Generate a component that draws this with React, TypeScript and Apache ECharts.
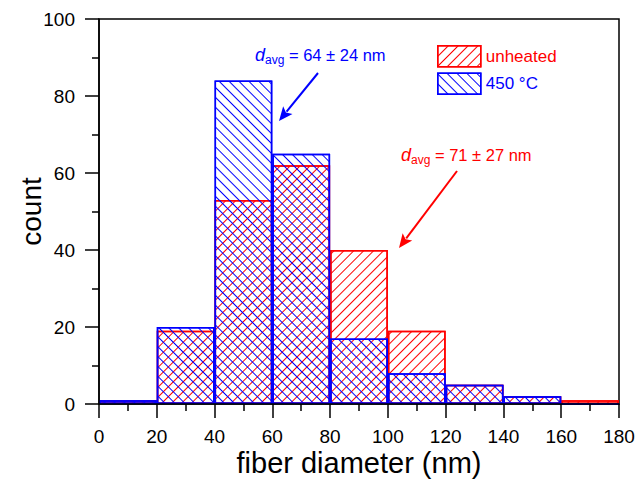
import React, { useEffect, useRef } from "react";
import * as echarts from "echarts";

const binStarts = [0, 20, 40, 60, 80, 100, 120, 140, 160];
const binLabels = binStarts.map((s) => `${s}-${s + 20}`);
const unheated = [1, 19, 53, 62, 40, 19, 5, 2, 1];
const heated450 = [1, 20, 84, 65, 17, 8, 5, 2, 0];
const seriesNames = ["unheated", "450 °C"];
const xTickMin = 0;
const xTickMax = 180;
const yTickMin = 0;
const yTickMax = 100;

const RED = "#ff0000";
const BLUE = "#0000ff";
const FONT = "'Liberation Sans', Arial, Helvetica, sans-serif";

function arrow(x0: number, y0: number, x1: number, y1: number, color: string) {
  const dx = x1 - x0;
  const dy = y1 - y0;
  const len = Math.sqrt(dx * dx + dy * dy);
  const ux = dx / len;
  const uy = dy / len;
  const hl = 14;
  const hw = 6;
  const bx = x1 - ux * hl;
  const by = y1 - uy * hl;
  const px = -uy;
  const py = ux;
  return [
    {
      type: "line",
      shape: { x1: x0, y1: y0, x2: bx + ux * 2, y2: by + uy * 2 },
      style: { stroke: color, lineWidth: 2 },
      silent: true,
    },
    {
      type: "polygon",
      shape: {
        points: [
          [x1, y1],
          [bx + px * hw, by + py * hw],
          [bx + ux * 3, by + uy * 3],
          [bx - px * hw, by - py * hw],
        ],
      },
      style: { fill: color },
      silent: true,
    },
  ];
}

function annot(x: number, y: number, value: string, color: string) {
  return {
    type: "text",
    left: x,
    top: y,
    silent: true,
    style: {
      text: `{d|d}{s|avg}{n| = ${value}}`,
      fill: color,
      font: `16px ${FONT}`,
      rich: {
        d: { fontStyle: "italic", fontSize: 18, fontFamily: FONT, fill: color, height: 22 },
        s: { fontSize: 12, fontFamily: FONT, fill: color, padding: [9, 0, 0, 0], height: 22 },
        n: { fontSize: 16.5, fontFamily: FONT, fill: color, height: 22 },
      },
    },
  };
}

function decal(color: string, rotation: number) {
  return {
    symbol: "rect",
    symbolSize: 1,
    dashArrayX: [1, 0],
    dashArrayY: [1, 5.5],
    rotation,
    color,
    backgroundColor: "rgba(0,0,0,0)",
  };
}

export default function App() {
  const ref = useRef<HTMLDivElement>(null);
  useEffect(() => {
    if (!ref.current) return;
    const chart = echarts.init(ref.current, null, { renderer: "svg" });
    const redDecal = decal(RED, -Math.PI / 4);
    const blueDecal = decal(BLUE, Math.PI / 4);
    chart.setOption({
      animation: false,
      backgroundColor: "#ffffff",
      textStyle: { fontFamily: FONT },
      grid: {
        left: 99,
        right: 19,
        top: 19,
        bottom: 76,
        outerBoundsMode: "none",
        containLabel: false,
        show: true,
        borderColor: "#000",
        borderWidth: 1.5,
        backgroundColor: "rgba(0,0,0,0)",
      },
      legend: {
        orient: "vertical",
        left: 437,
        top: 45,
        itemWidth: 43,
        itemHeight: 21,
        itemGap: 5,
        padding: 0,
        selectedMode: false,
        data: [
          {
            name: seriesNames[0],
            icon: "rect",
            textStyle: { color: RED, fontSize: 17, fontFamily: FONT },
            itemStyle: { color: "rgba(0,0,0,0)", borderColor: RED, borderWidth: 1.5, decal: redDecal },
          },
          {
            name: seriesNames[1],
            icon: "rect",
            textStyle: { color: BLUE, fontSize: 17, fontFamily: FONT },
            itemStyle: { color: "rgba(0,0,0,0)", borderColor: BLUE, borderWidth: 1.5, decal: blueDecal },
          },
        ],
      },
      xAxis: [
        {
          type: "value",
          min: xTickMin,
          max: xTickMax,
          interval: 20,
          name: "fiber diameter (nm)",
          nameLocation: "middle",
          nameGap: 44,
          nameMoveOverlap: false,
          nameTextStyle: { fontSize: 29, color: "#000", fontFamily: FONT },
          axisLine: { show: true, onZero: false, lineStyle: { color: "#000", width: 1.5 } },
          axisTick: { show: true, inside: false, length: 14, lineStyle: { color: "#000", width: 1.5 } },
          minorTick: { show: true, splitNumber: 2, length: 7, lineStyle: { color: "#000", width: 1.5 } },
          axisLabel: { margin: 23, fontSize: 19, color: "#000", fontFamily: FONT },
          splitLine: { show: false },
          z: 10,
        },
        {
          type: "category",
          data: binLabels,
          boundaryGap: true,
          show: false,
          position: "bottom",
        },
      ],
      yAxis: {
        type: "value",
        min: yTickMin,
        max: yTickMax,
        interval: 20,
        name: "count",
        nameLocation: "middle",
        nameGap: 54,
        nameMoveOverlap: false,
        nameTextStyle: { fontSize: 28, color: "#000", fontFamily: FONT },
        axisLine: { show: true, lineStyle: { color: "#000", width: 1.5 } },
        axisTick: { show: true, inside: false, length: 14, lineStyle: { color: "#000", width: 1.5 } },
        minorTick: { show: true, splitNumber: 2, length: 7, lineStyle: { color: "#000", width: 1.5 } },
        axisLabel: { margin: 24, fontSize: 19, color: "#000", fontFamily: FONT },
        splitLine: { show: false },
        z: 10,
      },
      series: [
        {
          name: seriesNames[0],
          type: "bar",
          xAxisIndex: 1,
          data: unheated,
          barWidth: "100%",
          barGap: "-100%",
          itemStyle: { color: "rgba(0,0,0,0)", borderColor: RED, borderWidth: 1.5, decal: redDecal },
          z: 2,
        },
        {
          name: seriesNames[1],
          type: "bar",
          xAxisIndex: 1,
          data: heated450,
          barWidth: "100%",
          barGap: "-100%",
          itemStyle: { color: "rgba(0,0,0,0)", borderColor: BLUE, borderWidth: 1.5, decal: blueDecal },
          z: 3,
        },
      ],
      graphic: [
        annot(255, 46, "64 ± 24 nm", BLUE),
        annot(401, 146, "71 ± 27 nm", RED),
        ...arrow(318, 73, 279, 121, BLUE),
        ...arrow(457, 171, 399, 248, RED),
      ],
    });
    return () => chart.dispose();
  }, []);
  return (
    <div
      ref={ref}
      style={{ position: "fixed", left: 0, top: 0, width: 638, height: 480 }}
    />
  );
}
